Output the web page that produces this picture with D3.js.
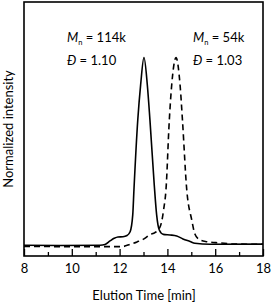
<!DOCTYPE html>
<html>
<head>
<meta charset="utf-8">
<script src="https://cdn.jsdelivr.net/npm/d3@7"></script>
<style>
  body { margin: 0; background: #fff; }
  text { font-family: Lato, "Open Sans", sans-serif; fill: #000; }
</style>
</head>
<body>
<script>
var WIDTH = 271;
var HEIGHT = 304;

// plot box
var LEFT = 24, RIGHT = 263, TOP = 2, BOTTOM = 256;

// solid trace (Mn 114k)
var solidTime = [8, 9.5, 11.18, 11.39, 11.6, 11.77, 11.93, 12.14, 12.31, 12.44, 12.55, 12.6, 12.76, 12.88, 13.02,
  13.16, 13.27, 13.45, 13.55, 13.66, 13.83, 14.11, 14.39, 14.65, 14.95, 15.15, 15.78, 18];
var solidVal = [0.054, 0.053, 0.054, 0.058, 0.076, 0.089, 0.096, 0.097, 0.103, 0.122, 0.207, 0.333, 0.685, 0.862, 1.0,
  0.862, 0.685, 0.358, 0.207, 0.131, 0.109, 0.106, 0.101, 0.086, 0.073, 0.064, 0.059, 0.06];

// dashed trace (Mn 54k)
var dashTime = [8, 11.18, 11.89, 12.14, 12.44, 12.73, 13.02, 13.27, 13.48, 13.69, 13.79, 13.84, 13.94, 14.08, 14.18, 14.36,
  14.53, 14.63, 14.81, 15.02, 15.15, 15.36, 15.66, 16.2, 16.83, 18];
var dashVal = [0.048, 0.047, 0.047, 0.048, 0.059, 0.071, 0.086, 0.108, 0.118, 0.146, 0.192, 0.232, 0.333, 0.685, 0.862, 1.0,
  0.862, 0.685, 0.333, 0.181, 0.111, 0.081, 0.072, 0.066, 0.06, 0.059];

var majorTicks = [8, 10, 12, 14, 16, 18];
var minorTicks = [9, 11, 13, 15, 17];

var svg = d3.select("body")
  .append("svg")
  .attr("width", WIDTH)
  .attr("height", HEIGHT);

var x = d3.scaleLinear().domain([8, 18]).range([LEFT, RIGHT]);
var y = d3.scaleLinear().domain([0, 1.28]).range([BOTTOM, TOP]);

function toPoints(ts, vs) {
  let pts = [];
  for (let i = 0; i < ts.length; i++) {
    pts.push({t: ts[i], v: vs[i]});
  }
  return pts;
}

var line = d3.line()
  .x(function (d) { return x(d.t); })
  .y(function (d) { return y(d.v); })
  .curve(d3.curveMonotoneX);

svg.append("path")
  .datum(toPoints(dashTime, dashVal))
  .attr("d", line)
  .attr("fill", "none")
  .attr("stroke", "#000")
  .attr("stroke-width", 1.6)
  .attr("stroke-dasharray", "6,4");

svg.append("path")
  .datum(toPoints(solidTime, solidVal))
  .attr("d", line)
  .attr("fill", "none")
  .attr("stroke", "#000")
  .attr("stroke-width", 1.6);

// ticks point inward
var major = svg.append("g")
  .attr("transform", "translate(0," + BOTTOM + ")")
  .call(d3.axisBottom(x).tickValues(majorTicks).tickSize(-7).tickPadding(8).tickFormat(d3.format("d")));
major.select(".domain").remove();
major.selectAll("line").attr("stroke-width", 1.3);
major.selectAll("text").attr("font-size", "13px").attr("font-family", "Lato, sans-serif");

var minor = svg.append("g")
  .attr("transform", "translate(0," + BOTTOM + ")")
  .call(d3.axisBottom(x).tickValues(minorTicks).tickSize(-4).tickFormat(""));
minor.select(".domain").remove();
minor.selectAll("line").attr("stroke-width", 1.3);

svg.append("rect")
  .attr("x", LEFT)
  .attr("y", TOP)
  .attr("width", RIGHT - LEFT)
  .attr("height", BOTTOM - TOP)
  .attr("fill", "none")
  .attr("stroke", "#000")
  .attr("stroke-width", 1.6);

// annotations
function label(px, py, mn, dis) {
  let t1 = svg.append("text").attr("x", px).attr("y", py).attr("font-size", "13px");
  t1.append("tspan").attr("font-style", "italic").text("M");
  t1.append("tspan").attr("font-size", "7.5px").attr("dy", 3).text("n");
  t1.append("tspan").attr("dy", -3).text(" = " + mn);

  let t2 = svg.append("text").attr("x", px).attr("y", py + 23).attr("font-size", "13px");
  t2.append("tspan").attr("font-style", "italic").text("Đ");
  t2.append("tspan").text(" = " + dis);
}
label(67, 42, "114k", "1.10");
label(193, 42, "54k", "1.03");

svg.append("text")
  .attr("x", (LEFT + RIGHT) / 2 + 0.5)
  .attr("y", 300)
  .attr("text-anchor", "middle")
  .attr("font-size", "13px")
  .text("Elution Time [min]");

svg.append("text")
  .attr("transform", "translate(13," + 129 + ") rotate(-90)")
  .attr("text-anchor", "middle")
  .attr("font-size", "13px")
  .text("Normalized intensity");
</script>
</body>
</html>
